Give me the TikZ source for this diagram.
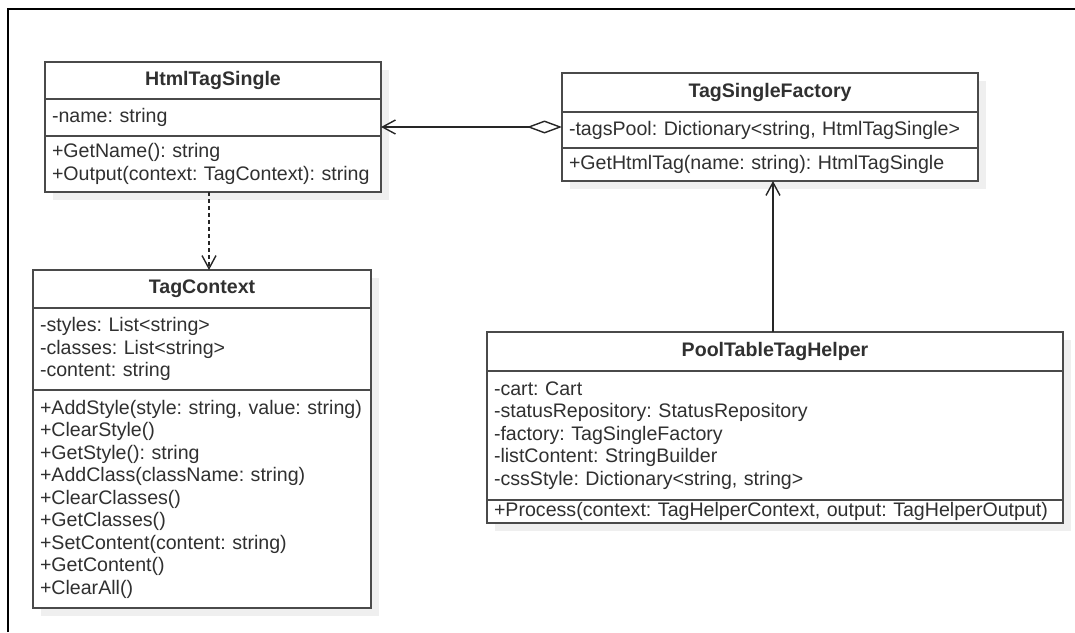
\documentclass[tikz,border=0pt]{standalone}
\usepackage{fontspec}
\setmainfont{Liberation Sans}
\usetikzlibrary{arrows.meta,backgrounds}
\newcommand\umlfont{\fontsize{19.6}{22.5}\selectfont\frenchspacing}
\definecolor{linec}{HTML}{4A4A4A}
\definecolor{textc}{HTML}{303030}
\definecolor{shadowc}{HTML}{EFEFEF}
\tikzset{
  comp/.style={draw=linec, line width=1.4pt, fill=white, anchor=north west,
    inner xsep=7pt, inner ysep=0pt, outer sep=0pt, align=left,
    font=\umlfont, text=textc},
  ctitle/.style={comp, align=center, font=\umlfont\bfseries},
  conn/.style={draw=black!85, line width=1.4pt},
  opentip/.style={-{Straight Barb[length=13pt,width=14pt]}},
  dep/.style={conn, opentip, dash pattern=on 4pt off 3pt},
  nav/.style={conn, opentip},
  aggr/.style={conn, {Diamond[open,length=35pt,width=13pt,fill=white]}-{Straight Barb[length=13pt,width=14pt]}},
  shade/.style={fill=shadowc}
}
\begin{document}
\begin{tikzpicture}[x=1pt,y=-1pt]
\useasboundingbox (0,0) rectangle (1075,632);
\draw[line width=2.2pt, black] (8,632) -- (8,9) -- (1075,9);

% HtmlTagSingle
\node[ctitle, text width=322pt, minimum height=37pt] (hts-t) at (45,62) {HtmlTagSingle};
\node[comp, text width=322pt, minimum height=37pt] (hts-a) at (hts-t.south west) {-name: string};
\node[comp, text width=322pt, minimum height=56pt] (hts-m) at (hts-a.south west) {+GetName(): string\\+Output(context: TagContext): string};

% TagSingleFactory
\node[ctitle, text width=402pt, minimum height=39pt] (tsf-t) at (562,73) {TagSingleFactory};
\node[comp, text width=402pt, minimum height=36pt] (tsf-a) at (tsf-t.south west) {-tagsPool: Dictionary<string, HtmlTagSingle>};
\node[comp, text width=402pt, minimum height=33pt] (tsf-m) at (tsf-a.south west) {+GetHtmlTag(name: string): HtmlTagSingle};

% TagContext
\node[ctitle, text width=324pt, minimum height=38pt] (tc-t) at (33,270) {TagContext};
\node[comp, text width=324pt, minimum height=82pt] (tc-a) at (tc-t.south west) {-styles: List<string>\\-classes: List<string>\\-content: string};
\node[comp, text width=324pt, minimum height=218pt] (tc-m) at (tc-a.south west) {+AddStyle(style: string, value: string)\\+ClearStyle()\\+GetStyle(): string\\+AddClass(className: string)\\+ClearClasses()\\+GetClasses()\\+SetContent(content: string)\\+GetContent()\\+ClearAll()};

% PoolTableTagHelper
\node[ctitle, text width=562pt, minimum height=39pt] (pth-t) at (487,332) {PoolTableTagHelper};
\node[comp, text width=562pt, minimum height=129pt] (pth-a) at (pth-t.south west) {-cart: Cart\\-statusRepository: StatusRepository\\-factory: TagSingleFactory\\-listContent: StringBuilder\\-cssStyle: Dictionary<string, string>};
\node[comp, text width=562pt, minimum height=23pt] (pth-m) at (pth-a.south west) {+Process(context: TagHelperContext, output: TagHelperOutput)};

\begin{pgfonlayer}{background}
\fill[shade] ([shift={(8,8)}]hts-t.north west) rectangle ([shift={(8,8)}]hts-m.south east);
\fill[shade] ([shift={(8,8)}]tsf-t.north west) rectangle ([shift={(8,8)}]tsf-m.south east);
\fill[shade] ([shift={(8,8)}]tc-t.north west) rectangle ([shift={(8,8)}]tc-m.south east);
\fill[shade] ([shift={(8,8)}]pth-t.north west) rectangle ([shift={(8,8)}]pth-m.south east);
\end{pgfonlayer}

% connectors
\draw[aggr] ([yshift=3pt]tsf-a.west) -- ([yshift=3pt]tsf-a.west -| hts-a.east);
\draw[dep] ([xshift=-4pt]hts-m.south) -- ([xshift=-4pt]hts-m.south |- tc-t.north);
\draw[nav] ([xshift=-2pt]pth-t.north) -- ([xshift=-2pt]pth-t.north |- tsf-m.south);
\end{tikzpicture}
\end{document}
